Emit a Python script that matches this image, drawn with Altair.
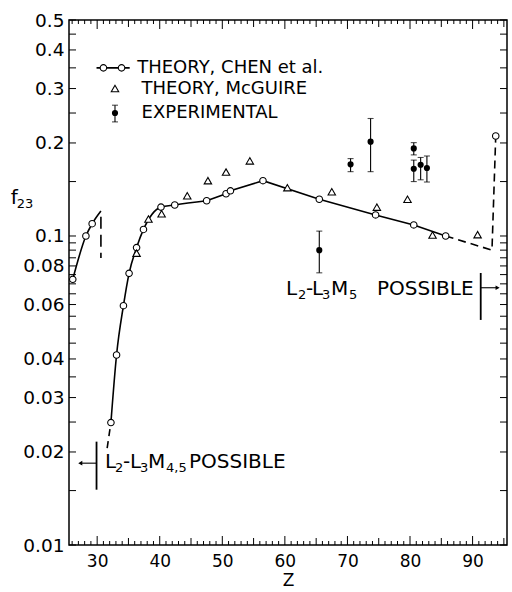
import altair as alt
import pandas as pd

# ---------------- data ----------------
# Theory, Chen et al. (open circles with line)
chen1_z = [26.1, 28.2, 29.2, 30.6]
chen1_f = [0.0724, 0.100, 0.1096, 0.1205]
chen2_z = [32.2, 33.1, 34.2, 35.1, 36.3, 37.4, 40.2, 42.4, 47.5]
chen2_f = [0.0249, 0.0412, 0.0595, 0.0757, 0.0917, 0.105, 0.124, 0.126, 0.130]
chen3_z = [47.5, 50.6, 51.3, 56.5, 65.5, 74.5, 80.6, 85.7]
chen3_f = [0.130, 0.137, 0.140, 0.151, 0.1315, 0.117, 0.1086, 0.100]
chen_dash_lo_z = [31.6, 32.2]
chen_dash_lo_f = [0.0206, 0.0249]
chen_dash_hi_z = [85.7, 93.1, 93.7]
chen_dash_hi_f = [0.100, 0.090, 0.2106]
chen_vdash_z = [30.6, 30.6]
chen_vdash_f = [0.1154, 0.0849]
chen_pts_z = [26.1, 28.2, 29.2, 32.2, 33.1, 34.2, 35.1, 36.3, 37.4, 40.2, 42.4,
              47.5, 50.6, 51.3, 56.5, 65.5, 74.5, 80.6, 85.7, 93.7]
chen_pts_f = [0.0724, 0.100, 0.1096, 0.0249, 0.0412, 0.0595, 0.0757, 0.0917, 0.105,
              0.124, 0.126, 0.130, 0.137, 0.140, 0.151, 0.1315, 0.117, 0.1086, 0.100, 0.2106]

# Theory, McGuire (open triangles)
mcg_z = [36.3, 38.2, 40.3, 44.4, 47.7, 50.6, 54.4, 60.4, 67.5, 74.7, 79.6, 83.6, 90.8]
mcg_f = [0.088, 0.1135, 0.118, 0.135, 0.151, 0.161, 0.175, 0.1433, 0.139, 0.124,
         0.1315, 0.1007, 0.101]

# Experimental (filled circles with error bars)
exp_z = [65.5, 70.5, 73.7, 80.6, 80.6, 81.7, 82.7]
exp_f = [0.090, 0.1706, 0.202, 0.192, 0.165, 0.170, 0.166]
exp_lo = [0.076, 0.1615, 0.1615, 0.183, 0.150, 0.152, 0.1495]
exp_hi = [0.1037, 0.178, 0.240, 0.2005, 0.176, 0.1795, 0.1815]

# tick values
x_labels = [30, 40, 50, 60, 70, 80, 90]
x_minor = [z for z in range(26, 96) if z % 5 != 0]
x_five = [z for z in range(26, 96) if z % 5 == 0 and z % 10 != 0]
x_ten = [z for z in range(26, 96) if z % 10 == 0]
y_labels = [0.01, 0.02, 0.03, 0.04, 0.06, 0.08, 0.1, 0.2, 0.3, 0.4, 0.5]
y_ticks = [round(0.01 + 0.005 * i, 4) for i in range(19)] + [0.15, 0.2, 0.25, 0.3, 0.35, 0.4, 0.45, 0.5]

# annotations
ann_left_bar_z = [29.9, 29.9]
ann_left_bar_f = [0.0216, 0.0151]
ann_left_arrow_z = [29.9, 27.3]
ann_left_arrow_f = [0.0184, 0.0184]
ann_right_bar_z = [91.3, 91.3]
ann_right_bar_f = [0.0759, 0.0535]
ann_right_arrow_z = [91.3, 94.0]
ann_right_arrow_f = [0.068, 0.068]
# label pieces: (text, is_subscript)
ann_left_parts = [("L", False), ("2", True), ("-", False), ("L", False), ("3", True),
                  ("M", False), ("4,5", True), ("POSSIBLE", False)]
ann_left_dx = [0, 10, 18, 25, 35, 43, 61, 84]
ann_left_anchor = (31.25, 0.0185)
ann_right_parts = [("L", False), ("2", True), ("-", False), ("L", False), ("3", True),
                   ("M", False), ("5", True), ("POSSIBLE", False)]
ann_right_dx = [0, 12, 20, 26, 36, 45, 63, 91]
ann_right_anchor = (60.18, 0.0673)

# y-axis title pieces
ytitle_parts = [("f", False), ("23", True)]
ytitle_dx = [0, 6]
ytitle_anchor = (16.2, 0.1328)

# legend
leg_text = ["THEORY, CHEN  et al.", "THEORY, McGUIRE", "EXPERIMENTAL"]
leg_text_z = [36.4, 37.1, 37.1]
leg_text_f = [0.35, 0.30, 0.25]
leg_line_z = [29.9, 35.2]
leg_line_f = [0.35, 0.35]
leg_circ_z = [31.0, 33.9]
leg_circ_f = [0.35, 0.35]
leg_tri_z = [32.85]
leg_tri_f = [0.30]
leg_exp_z = [32.85]
leg_exp_f = [0.25]
leg_exp_lo = [0.234]
leg_exp_hi = [0.265]

# ---------------- chart ----------------
W, H = 438, 525
FONT = "DejaVu Sans"
xs = alt.Scale(domain=[25.5, 95.5], nice=False, zero=False)
ys = alt.Scale(type="log", domain=[0.01, 0.5], nice=False)

xaxis = alt.Axis(values=x_labels, ticks=False, domain=False, grid=False,
                 labelFont=FONT, labelFontSize=17, labelColor="black", labelPadding=8,
                 title="Z", titleFont=FONT, titleFontSize=17, titleFontWeight="normal",
                 titleColor="black", titlePadding=3)
yaxis = alt.Axis(values=y_labels, format="~g", ticks=False, domain=False, grid=False,
                 labelFont=FONT, labelFontSize=18.5, labelColor="black", labelPadding=5,
                 title="")


def X(field="z"):
    return alt.X(f"{field}:Q", scale=xs, axis=xaxis, title="Z")


def Y(field="f"):
    return alt.Y(f"{field}:Q", scale=ys, axis=yaxis, title="")


def df(z, f, **kw):
    d = {"z": z, "f": f}
    d.update(kw)
    return pd.DataFrame(d)


def line(z, f, dash=None, interp="linear", sw=1.6):
    kw = dict(color="black", strokeWidth=sw, interpolate=interp)
    if dash:
        kw["strokeDash"] = dash
    return alt.Chart(df(z, f)).mark_line(**kw).encode(x=X(), y=Y())


def pieces(parts, dxs, anchor, size, subsize, subdy):
    out = []
    for (t, sub), dx in zip(parts, dxs):
        out.append(alt.Chart(df([anchor[0]], [anchor[1]], t=[t])).mark_text(
            align="left", baseline="middle", font=FONT,
            fontSize=subsize if sub else size, dx=dx, dy=subdy if sub else 0,
            color="black").encode(x=X(), y=Y(), text="t:N"))
    return out


layers = []
# Chen lines
layers.append(line(chen1_z, chen1_f, interp="monotone"))
layers.append(line(chen2_z, chen2_f, interp="monotone"))
layers.append(line(chen3_z, chen3_f))
layers.append(line(chen_dash_lo_z, chen_dash_lo_f, dash=[7, 5]))
layers.append(line(chen_dash_hi_z, chen_dash_hi_f, dash=[8, 5]))
layers.append(line(chen_vdash_z, chen_vdash_f, dash=[12, 6]))
# annotation bars and arrows
layers.append(line(ann_left_bar_z, ann_left_bar_f, sw=1.8))
layers.append(line(ann_right_bar_z, ann_right_bar_f, sw=1.8))
layers.append(line(ann_left_arrow_z, ann_left_arrow_f, sw=1.1))
layers.append(line(ann_right_arrow_z, ann_right_arrow_f, sw=1.1))
layers.append(alt.Chart(df(ann_left_arrow_z[1:], ann_left_arrow_f[1:])).mark_point(
    shape="triangle-left", filled=True, color="black", size=22, opacity=1).encode(x=X(), y=Y()))
layers.append(alt.Chart(df(ann_right_arrow_z[1:], ann_right_arrow_f[1:])).mark_point(
    shape="triangle-right", filled=True, color="black", size=22, opacity=1).encode(x=X(), y=Y()))

# Chen points
layers.append(alt.Chart(df(chen_pts_z, chen_pts_f)).mark_point(
    shape="circle", filled=True, fill="white", stroke="black", strokeWidth=1.1, size=42, opacity=1
).encode(x=X(), y=Y()))
# McGuire triangles
layers.append(alt.Chart(df(mcg_z, mcg_f)).mark_point(
    shape="triangle-up", filled=True, fill="white", stroke="black", strokeWidth=1.1, size=55, opacity=1
).encode(x=X(), y=Y()))
# Experimental
exp_df = df(exp_z, exp_f, lo=exp_lo, hi=exp_hi)
layers.append(alt.Chart(exp_df).mark_rule(color="black", strokeWidth=1.1).encode(
    x=X(), y=Y("lo"), y2="hi:Q"))
layers.append(alt.Chart(exp_df).mark_tick(orient="horizontal", color="black", size=6, thickness=1.1).encode(
    x=X(), y=Y("lo")))
layers.append(alt.Chart(exp_df).mark_tick(orient="horizontal", color="black", size=6, thickness=1.1).encode(
    x=X(), y=Y("hi")))
layers.append(alt.Chart(exp_df).mark_point(shape="circle", filled=True, color="black", size=38, opacity=1).encode(
    x=X(), y=Y()))

# legend
layers.append(line(leg_line_z, leg_line_f))
layers.append(alt.Chart(df(leg_circ_z, leg_circ_f)).mark_point(
    shape="circle", filled=True, fill="white", stroke="black", strokeWidth=1.1, size=42, opacity=1
).encode(x=X(), y=Y()))
layers.append(alt.Chart(df(leg_tri_z, leg_tri_f)).mark_point(
    shape="triangle-up", filled=True, fill="white", stroke="black", strokeWidth=1.1, size=55, opacity=1
).encode(x=X(), y=Y()))
leg_exp_df = df(leg_exp_z, leg_exp_f, lo=leg_exp_lo, hi=leg_exp_hi)
layers.append(alt.Chart(leg_exp_df).mark_rule(color="black", strokeWidth=1.1).encode(x=X(), y=Y("lo"), y2="hi:Q"))
layers.append(alt.Chart(leg_exp_df).mark_tick(orient="horizontal", color="black", size=6, thickness=1.1).encode(x=X(), y=Y("lo")))
layers.append(alt.Chart(leg_exp_df).mark_tick(orient="horizontal", color="black", size=6, thickness=1.1).encode(x=X(), y=Y("hi")))
layers.append(alt.Chart(leg_exp_df).mark_point(shape="circle", filled=True, color="black", size=38, opacity=1).encode(x=X(), y=Y()))
layers.append(alt.Chart(df(leg_text_z, leg_text_f, t=leg_text)).mark_text(
    align="left", baseline="middle", font=FONT, fontSize=18, color="black"
).encode(x=X(), y=Y(), text="t:N"))

# annotation texts and y title (pieces with subscripts)
layers += pieces(ann_left_parts, ann_left_dx, ann_left_anchor, 20, 13, 6)
layers += pieces(ann_right_parts, ann_right_dx, ann_right_anchor, 20, 13, 6)
layers += pieces(ytitle_parts, ytitle_dx, ytitle_anchor, 20, 13, 6)

# inward ticks on all four sides
for vals, ln in [(x_minor, 4), (x_five, 7), (x_ten, 9)]:
    tdf = pd.DataFrame({"z": vals})
    layers.append(alt.Chart(tdf).mark_rule(color="black", strokeWidth=1).encode(
        x=X(), y=alt.value(H), y2=alt.value(H - ln)))
    layers.append(alt.Chart(tdf).mark_rule(color="black", strokeWidth=1).encode(
        x=X(), y=alt.value(0), y2=alt.value(ln)))
ydf = pd.DataFrame({"f": y_ticks})
layers.append(alt.Chart(ydf).mark_rule(color="black", strokeWidth=1).encode(
    y=Y(), x=alt.value(0), x2=alt.value(7)))
layers.append(alt.Chart(ydf).mark_rule(color="black", strokeWidth=1).encode(
    y=Y(), x=alt.value(W), x2=alt.value(W - 7)))

chart = alt.layer(*layers).properties(
    width=W, height=H,
    autosize=alt.AutoSizeParams(type="none"),
    padding={"left": 69, "top": 20, "right": 5, "bottom": 47},
    background="white",
).configure_view(stroke="black", strokeWidth=1.5)

chart.save("out.html", embed_options={"renderer": "svg", "actions": False})
